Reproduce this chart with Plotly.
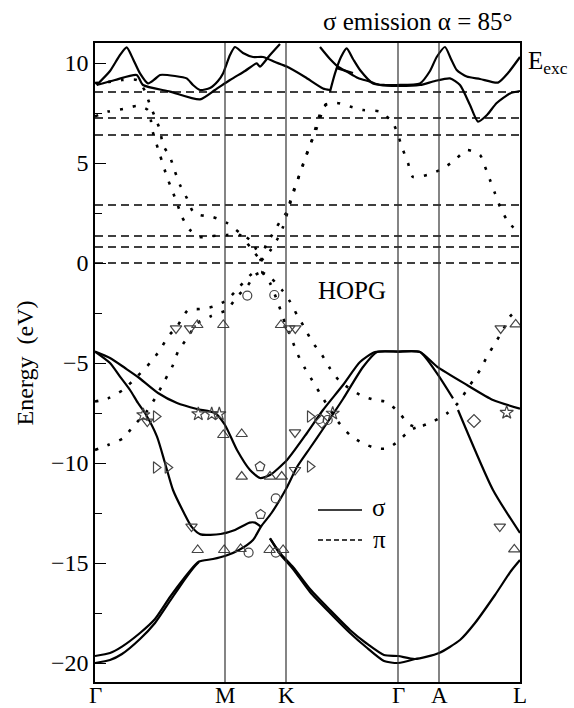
import plotly.graph_objects as go

# ---- k-path (distance along path) and labels ----
kpts = [0, 130, 191, 303, 344, 425]
klabels = ["Γ", "M", "K", "Γ", "A", "L"]

# ---- excitation energies (dashed lines) ----
e_exc = [8.55, 7.25, 6.4, 2.9, 1.35, 0.8, 0.0]

# ---- sigma bands (solid) ----
sA_k = [0, 15, 30, 43, 63, 82, 102, 120, 130, 142, 155, 165, 175, 192, 212, 228, 248, 265, 280, 303, 325, 342, 372, 398, 425]
sA_e = [-4.43, -4.75, -5.25, -5.7, -6.5, -7.0, -7.3, -7.5, -8.1, -9.35, -10.35, -10.75, -10.6, -9.85, -8.5, -7.35, -6.1, -4.95, -4.45, -4.43, -4.45, -5.18, -6.1, -6.85, -7.28]

sB_k = [0, 15, 25, 35, 43, 50, 62, 70, 78, 89, 96.5, 105.6, 125.6, 140, 154.6, 160, 166.3]
sB_e = [-4.43, -5.0, -5.68, -6.35, -7.0, -7.5, -8.68, -10.0, -11.35, -12.5, -13.18, -13.57, -13.55, -13.35, -12.98, -12.98, -13.2]

sC_k = [0, 15, 27, 45, 60, 75, 90, 100, 104, 118, 130, 144, 158, 166, 176.5, 191, 202, 215, 228, 248, 268, 282, 303, 325, 342, 358, None, 363, 398, 425]
sC_e = [-19.65, -19.5, -19.18, -18.5, -17.8, -16.7, -15.7, -15.1, -14.93, -14.8, -14.65, -14.35, -13.85, -13.18, -12.5, -11.3, -10.2, -9.25, -8.3, -6.8, -5.2, -4.45, -4.43, -4.45, -5.52, -6.77, None, -7.35, -11.35, -13.5]

sD_k = [0, 15, 27, 45, 60, 75, 90, 100, 104]
sD_e = [-20.0, -19.85, -19.55, -18.8, -18.0, -16.9, -15.8, -15.15, -14.95]

sE_k = [175, 185, 198, 215, 235, 255, 271, 289, 303, 320, 344, 365, 380, 400, 416, 425]
sE_e = [-13.77, -14.5, -15.2, -16.3, -17.35, -18.35, -19.0, -19.6, -19.65, -19.8, -19.5, -18.85, -18.0, -16.6, -15.4, -14.85]

sF_k = [175, 185, 198, 215, 235, 255, 271, 289, 303, 320]
sF_e = [-13.77, -14.55, -15.3, -16.45, -17.5, -18.5, -19.2, -19.9, -20.0, -19.8]

# conduction (solid, above)
c1_k = [1.7, 15, 25, 31.7, 38, 45, 53, 60, 65, 80, 91.7, 98, 105, 115, 123, 128, 135, 140, 148, 158, 168, 180, 191.7, 210, 228, 235]
c1_e = [8.9, 9.6, 10.4, 10.78, 10.2, 9.48, 8.98, 9.2, 9.4, 9.35, 9.23, 8.9, 8.65, 8.75, 9.1, 9.48, 10.4, 10.8, 10.5, 10.3, 10.3, 10.05, 9.82, 9.3, 8.73, 8.65]

c2_k = [1.7, 20, 41.7, 48, 75, 105, 120, 135, 150, 161.7, 165, 175, 185]
c2_e = [8.9, 9.15, 9.4, 8.9, 8.57, 8.18, 8.65, 9.15, 9.6, 9.98, 9.82, 10.4, 10.95]

c3_k = [225, 235, 243, 251.7, 263, 275, 285, 303, 325, 340, 355, 365, 375, 383, 392, 401.7, 415, 425]
c3_e = [10.8, 10.2, 9.82, 9.57, 9.25, 9.07, 8.9, 8.85, 8.9, 9.1, 9.23, 8.9, 7.9, 7.07, 7.4, 8.0, 8.48, 8.6]

c4_k = [235, 240, 246, 251.7, 258, 265, 278, 290, 301.7, 325, 335, 341.7, 350, 356, 361.7, 371.7, 385, 403, 413, 425]
c4_e = [8.57, 9.48, 10.3, 10.73, 10.2, 9.65, 8.98, 8.9, 8.9, 8.98, 9.6, 10.3, 10.8, 10.2, 9.65, 9.32, 9.2, 9.02, 9.5, 10.3]

c5_k = [241, 250, 258]
c5_e = [9.75, 9.62, 9.5]

# ---- pi bands (dotted) ----
pL1_k = [0, 13, 28, 42, 53, 56, 57, 65, 72, 77, 82, 87, 95, 105, 118, 132, 145, 155, 166]
pL1_e = [7.33, 7.57, 7.7, 7.85, 7.65, 7.1, 6.7, 5.4, 4.3, 3.65, 3.0, 2.3, 1.65, 1.3, 1.35, 1.4, 1.4, 0.8, 0.1]
pL2_k = [0, 13, 27, 42, 50, 55, 60, 65, 68, 75, 80, 85, 92, 98, 105, 118, 132, 145, 157, 166]
pL2_e = [9.0, 9.05, 9.15, 9.15, 8.6, 7.9, 7.3, 6.65, 5.9, 5.3, 4.57, 3.9, 3.23, 2.57, 2.4, 2.3, 2.0, 1.5, 1.07, 0.1]
pR1_k = [166, 171, 177, 185, 192, 197, 205, 210, 215, 220, 225, 230, 242, 255, 268, 285, 298, 308, 313, 318, 332, 345, 358, 372, 385, 390, 395, 400, 405, 412, 422]
pR1_e = [0.1, 0.9, 1.4, 2.07, 2.57, 3.4, 4.48, 5.23, 5.9, 6.5, 7.23, 7.9, 8.0, 7.82, 7.65, 7.57, 7.0, 5.65, 5.0, 4.3, 4.4, 4.65, 5.07, 5.65, 5.4, 4.82, 4.15, 3.48, 2.82, 2.15, 1.57]
pR2_k = [166, 175, 183, 188, 194, 199, 203, 208, 213, 218, 222, 227, 233]
pR2_e = [0.1, 0.6, 1.25, 1.8, 2.8, 3.6, 4.2, 4.9, 5.6, 6.3, 7.0, 7.7, 8.0]

vL1_k = [0, 13, 28, 42, 55, 65, 73, 82, 93, 105, 118, 132, 143, 158, 167]
vL1_e = [-6.93, -6.77, -6.35, -5.68, -5.0, -4.35, -3.68, -3.18, -2.35, -2.3, -2.18, -1.85, -1.27, -0.5, -0.45]
vL2_k = [0, 13, 28, 38, 52, 62, 70, 78, 83, 92, 102, 115, 123, 132, 142, 152, 160, 167]
vL2_e = [-9.35, -9.1, -8.77, -8.18, -7.4, -6.6, -5.85, -5.1, -4.43, -3.77, -3.02, -2.68, -2.52, -2.35, -1.68, -1.18, -0.6, -0.45]
vRa_k = [167, 177, 187, 195, 202, 210, 217, 227, 235, 245, 265, 280, 292, 303, 315, 323, 338, 352, 363, 375, 385, 392, 400, 408, 415, 421]
vRa_e = [-0.45, -0.8, -1.35, -1.93, -2.6, -3.27, -3.93, -4.6, -5.27, -5.93, -6.6, -6.85, -6.95, -7.43, -8.1, -8.2, -7.93, -7.52, -7.0, -6.1, -5.35, -4.68, -4.02, -3.35, -2.68, -2.4]
vRb_k = [167, 175, 183, 190, 197, 203, 210, 217, 225, 243, 255, 268, 282, 292, 303, 315, 323]
vRb_e = [-0.45, -1.0, -2.0, -3.0, -3.85, -4.6, -5.27, -5.85, -6.52, -7.93, -8.6, -9.02, -9.27, -9.27, -8.93, -8.35, -8.2]

# ---- experimental points ----
tu_k = [102.3, 128.3, 186, 128.3, 146.7, 146.7, 175, 186.7, 102.7, 129.2, 145.6, 174.6, 188.1, 419.3, 420.7]
tu_e = [-3.1, -3.1, -3.1, -8.6, -8.55, -10.68, -10.68, -10.68, -14.35, -14.35, -14.3, -14.35, -14.35, -14.32, -3.07]
td_k = [81, 95, 194.3, 200.3, 52.3, 200, 200, 96.5, 404.8, 405.7]
td_e = [-3.27, -3.27, -3.27, -3.27, -7.93, -8.47, -10.35, -13.18, -13.18, -3.27]
tr_k = [61, 61, 72.7, 215, 215]
tr_e = [-7.68, -10.23, -10.23, -7.68, -10.18]
st_k = [48.3, 103.3, 116.7, 124.3, 237.7, 411.7]
st_e = [-7.6, -7.55, -7.55, -7.55, -7.52, -7.48]
ci_k = [152.3, 179.3, 224.3, 232.7, 153.6, 180.8, 180.8]
ci_e = [-1.63, -1.6, -7.8, -7.85, -14.48, -14.48, -11.77]
pe_k = [165, 165.6]
pe_e = [-10.18, -12.57]
di_k = [226.7, 379]
di_e = [-7.93, -7.9]

FONT = "Liberation Serif, Times New Roman, Times, serif"
fig = go.Figure()

solid = [(sA_k, sA_e), (sB_k, sB_e), (sC_k, sC_e), (sD_k, sD_e), (sE_k, sE_e), (sF_k, sF_e),
         (c1_k, c1_e), (c2_k, c2_e), (c3_k, c3_e), (c4_k, c4_e), (c5_k, c5_e)]
for k, e in solid:
    fig.add_trace(go.Scatter(x=k, y=e, mode="lines", line=dict(color="black", width=2.2, shape="spline", smoothing=0.6),
                             hoverinfo="skip", showlegend=False, connectgaps=False))

dotted = [(pL1_k, pL1_e), (pL2_k, pL2_e), (pR1_k, pR1_e), (pR2_k, pR2_e),
          (vL1_k, vL1_e), (vL2_k, vL2_e), (vRa_k, vRa_e), (vRb_k, vRb_e)]
for k, e in dotted:
    fig.add_trace(go.Scatter(x=k, y=e, mode="lines", line=dict(color="black", width=2.6, dash="3px,10px", shape="spline", smoothing=0.6),
                             hoverinfo="skip", showlegend=False))

for e in e_exc:
    fig.add_shape(type="line", xref="x", yref="y", x0=kpts[0], x1=kpts[-1], y0=e, y1=e,
                  line=dict(color="black", width=1.4, dash="8px,5px"))

for kp in kpts[1:-1]:
    fig.add_shape(type="line", xref="x", yref="paper", x0=kp, x1=kp, y0=0, y1=1,
                  line=dict(color="#333", width=1.2))

for k, e, sym, sz in [(tu_k, tu_e, "triangle-up-open", 10), (td_k, td_e, "triangle-down-open", 10),
                      (tr_k, tr_e, "triangle-right-open", 10), (st_k, st_e, "star-open", 10),
                      (ci_k, ci_e, "circle-open", 9), (pe_k, pe_e, "pentagon-open", 10),
                      (di_k, di_e, "diamond-open", 10)]:
    fig.add_trace(go.Scatter(x=k, y=e, mode="markers", hoverinfo="skip", showlegend=False,
                             marker=dict(symbol=sym, size=sz, color="#444", line=dict(color="#444", width=1.2))))

# legend
fig.add_shape(type="line", xref="x", yref="y", x0=223, x1=267, y0=-12.35, y1=-12.35, line=dict(color="black", width=1.5))
fig.add_shape(type="line", xref="x", yref="y", x0=223, x1=267, y0=-13.85, y1=-13.85, line=dict(color="black", width=1.5, dash="5px,3px"))

ann = [
    dict(text="σ emission α = 85°", xref="paper", yref="paper", x=0.988, y=1.034, xanchor="right", yanchor="middle", font=dict(size=25)),
    dict(text="E<sub>exc</sub>", xref="paper", yref="paper", x=1.014, y=0.97, xanchor="left", yanchor="middle", font=dict(size=25)),
    dict(text="HOPG", xref="x", yref="y", x=257, y=-1.35, xanchor="center", yanchor="middle", font=dict(size=25)),
    dict(text="σ", xref="x", yref="y", x=284, y=-12.2, xanchor="center", yanchor="middle", font=dict(size=25)),
    dict(text="π", xref="x", yref="y", x=284, y=-13.8, xanchor="center", yanchor="middle", font=dict(size=25)),
    dict(text="Energy  (eV)", xref="paper", yref="paper", x=-0.165, y=0.5, textangle=-90, xanchor="center", yanchor="middle", font=dict(size=24)),
]
for kp, lab in zip(kpts, klabels):
    ann.append(dict(text=lab, xref="x", yref="paper", x=kp, y=0.0, xanchor="center", yanchor="top", borderpad=0, font=dict(size=23)))
for a in ann:
    a["showarrow"] = False
    a["font"]["family"] = FONT
    a["font"]["color"] = "black"
    fig.add_annotation(**a)

fig.update_layout(
    width=574, height=708, margin=dict(l=95, r=54, t=43, b=26, autoexpand=False),
    paper_bgcolor="white", plot_bgcolor="white",
    font=dict(family=FONT, size=24, color="black"),
    xaxis=dict(range=[kpts[0], kpts[-1]], tickvals=kpts, showticklabels=False, ticks="", showgrid=False, zeroline=False,
               automargin=False,
               showline=True, linecolor="black", linewidth=1.5, mirror=True),
    yaxis=dict(range=[-20.95, 11.0], tick0=0, dtick=5, ticks="inside", ticklen=11, tickwidth=1.2, tickcolor="black",
               automargin=False,
               showgrid=False, zeroline=False, showline=True, linecolor="black", linewidth=1.5, mirror=True,
               minor=dict(dtick=2.5, ticks="inside", ticklen=7, tickwidth=1.2, tickcolor="black", showgrid=False),
               tickfont=dict(size=24, family=FONT)),
)
fig.write_html("out.html")
